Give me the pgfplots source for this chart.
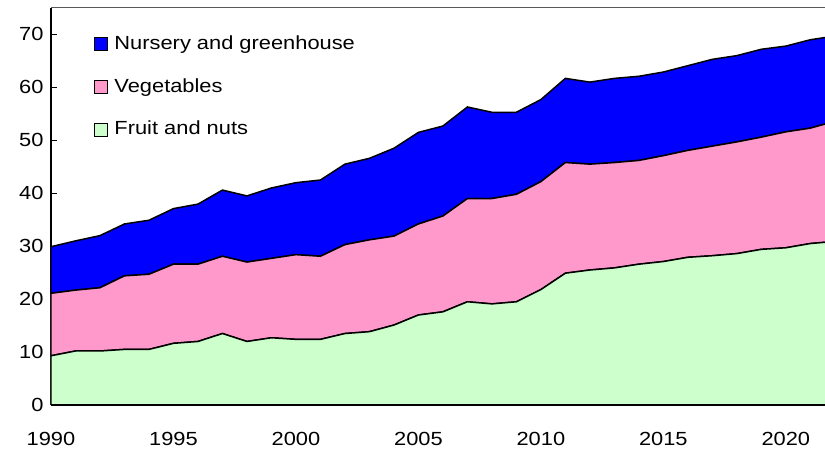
\documentclass[border=0pt]{standalone}
\usepackage{pgfplots}
\usepackage{pgfplotstable}
\pgfplotsset{compat=1.18}
\usepackage{fontspec}
\setmainfont{Liberation Sans}[FakeStretch=1.15]
\definecolor{fruit}{HTML}{CCFFCC}
\definecolor{veg}{HTML}{FF99CC}
\definecolor{nurs}{HTML}{0000FF}
\pgfplotstableread{
year fruit veg nurs
1990 9.3 11.8 8.8
1991 10.2 11.5 9.3
1992 10.2 11.95 9.85
1993 10.5 13.9 9.8
1994 10.5 14.2 10.2
1995 11.65 14.95 10.5
1996 12.0 14.6 11.35
1997 13.5 14.6 12.5
1998 12.0 15.0 12.5
1999 12.7 15.0 13.3
2000 12.4 16.0 13.6
2001 12.4 15.7 14.4
2002 13.5 16.8 15.2
2003 13.85 17.35 15.4
2004 15.1 16.8 16.6
2005 17.0 17.2 17.3
2006 17.6 18.1 17.0
2007 19.5 19.5 17.3
2008 19.1 19.9 16.3
2009 19.5 20.3 15.5
2010 21.8 20.4 15.5
2011 24.9 20.9 15.9
2012 25.5 20.0 15.5
2013 25.9 19.9 15.9
2014 26.6 19.6 15.9
2015 27.1 20.0 15.8
2016 27.9 20.2 16.0
2017 28.2 20.7 16.4
2018 28.6 21.1 16.3
2019 29.4 21.2 16.6
2020 29.7 21.9 16.2
2021 30.5 21.8 16.7
2022 30.9 22.7 16.1
}\datatable
\begin{document}
\fontsize{19bp}{23bp}\selectfont
\begin{tikzpicture}
\begin{axis}[
  name=ax,
  scale only axis,
  width=774bp, height=397bp,
  xmin=1990, xmax=2021.6,
  ymin=0, ymax=75,
  stack plots=y,
  axis x line*=bottom,
  axis y line*=left,
  axis line style={black, line width=1.6bp},
  xtick={1990,1995,...,2020},
  ytick={0,10,...,70},
  tick align=inside,
  major tick length=6bp,
  tick style={black, line width=0.8bp},
  /pgf/number format/assume math mode=true,
  /pgf/number format/1000 sep={},
  xticklabel style={yshift=-21bp},
  yticklabel style={xshift=-1bp},
  legend style={draw=none, fill=none, at={(0.051,0.94)}, anchor=north west,
    row sep=22bp, font=\fontsize{19bp}{23bp}\selectfont},
  legend cell align=left,
  reverse legend,
]
\addplot[fill=fruit, draw=black, line width=1.5bp,
  legend image code/.code={\draw[fill=fruit,draw=black,line width=0.8bp] (0bp,-6.5bp) rectangle (13bp,6.5bp);}]
  table[x=year,y=fruit]{\datatable} \closedcycle;
\addlegendentry{\hspace{5bp}Fruit and nuts}
\addplot[fill=veg, draw=black, line width=1.5bp,
  legend image code/.code={\draw[fill=veg,draw=black,line width=0.8bp] (0bp,-6.5bp) rectangle (13bp,6.5bp);}]
  table[x=year,y=veg]{\datatable} \closedcycle;
\addlegendentry{\hspace{5bp}Vegetables}
\addplot[fill=nurs, draw=black, line width=1.5bp,
  legend image code/.code={\draw[fill=nurs,draw=black,line width=0.8bp] (0bp,-6.5bp) rectangle (13bp,6.5bp);}]
  table[x=year,y=nurs]{\datatable} \closedcycle;
\addlegendentry{\hspace{5bp}Nursery and greenhouse}
\draw[gray!70!black, line width=1bp] (rel axis cs:0,1) -- (rel axis cs:1,1);
\end{axis}
\pgfresetboundingbox
\useasboundingbox ([xshift=-51bp,yshift=-44bp]ax.south west) rectangle ([yshift=8bp]ax.north east);
\end{tikzpicture}
\end{document}
